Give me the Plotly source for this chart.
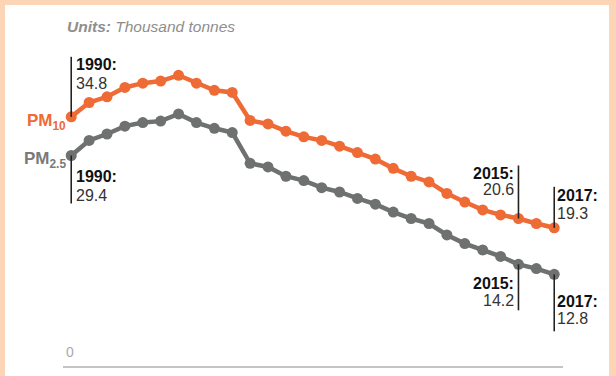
import plotly.graph_objects as go

# Annual emissions, thousand tonnes
years = list(range(1990, 2018))
pm10 = [34.8, 36.8, 37.6, 38.9, 39.5, 39.8, 40.6, 39.5, 38.5, 38.2,
        34.3, 33.8, 32.8, 32.0, 31.5, 30.7, 29.8, 28.9, 27.6, 26.5,
        25.7, 24.1, 22.9, 21.8, 21.1, 20.6, 19.9, 19.3]
pm25 = [29.4, 31.5, 32.4, 33.5, 34.0, 34.2, 35.2, 34.0, 33.2, 32.6,
        28.3, 27.8, 26.5, 25.9, 24.9, 24.3, 23.4, 22.6, 21.5, 20.6,
        19.9, 18.3, 17.1, 16.2, 15.3, 14.2, 13.6, 12.8]
series_names = ["PM<sub>10</sub>", "PM<sub>2.5</sub>"]
callout_years = [1990, 2015, 2017]

ORANGE = "#EE6B36"
GREY = "#6F7171"
LABEL_GREY = "#7A7A7A"
INK = "#111111"
NUM = "#333333"
PEACH = "#FCD4B6"
FONT = "Liberation Sans, Arial, sans-serif"

W, H = 616, 376
M_L, M_R, M_T, M_B = 63, 53, 44, 10
PLOT_H = H - M_T - M_B
Y_MAX = 44.97
PPU = PLOT_H / Y_MAX          # pixels per data unit
X_RANGE = [1989.54, 2017.49]

fig = go.Figure()
fig.add_trace(go.Scatter(x=years, y=pm25, mode="lines+markers",
                         line=dict(color=GREY, width=4.5),
                         marker=dict(color=GREY, size=11),
                         hoverinfo="skip", showlegend=False))
fig.add_trace(go.Scatter(x=years, y=pm10, mode="lines+markers",
                         line=dict(color=ORANGE, width=4.5),
                         marker=dict(color=ORANGE, size=11),
                         hoverinfo="skip", showlegend=False))

ann = []
shapes = []

def value_at(series, yr):
    return series[years.index(yr)]

def callout(series, yr, side, up, line_px, head_px, num_px, xshift):
    v = value_at(series, yr)
    sign = 1 if up else -1
    shapes.append(dict(type="line", xref="x", yref="y", x0=yr, x1=yr,
                       y0=v, y1=v + sign * line_px / PPU,
                       line=dict(color="#222222", width=1.6)))
    anchor = "left" if side == "right" else "right"
    ann.append(dict(x=yr, y=v, xref="x", yref="y", text=f"<b>{yr}:</b>",
                    showarrow=False, xanchor=anchor, yanchor="middle",
                    xshift=xshift, yshift=head_px,
                    font=dict(family=FONT, size=16, color=INK)))
    ann.append(dict(x=yr, y=v, xref="x", yref="y", text=f"{v:.1f}",
                    showarrow=False, xanchor=anchor, yanchor="middle",
                    xshift=xshift, yshift=num_px,
                    font=dict(family=FONT, size=16, color=NUM)))

# PM10 callouts (above the line)
callout(pm10, 1990, "right", True, 60, 52, 33, 3)
callout(pm10, 2015, "left", True, 53, 45, 29, -2)
callout(pm10, 2017, "right", True, 41, 32, 14, 1)
# PM2.5 callouts (below the line)
callout(pm25, 1990, "right", False, 48, -21, -40, 3)
callout(pm25, 2015, "left", False, 46, -19, -36, -2)
callout(pm25, 2017, "right", False, 57, -27, -44, 1)

# Series names at the start of each line
ann.append(dict(x=1990, y=pm10[0], xref="x", yref="y", text=f"<b>{series_names[0]}</b>",
                showarrow=False, xanchor="right", yanchor="middle", xshift=-3, yshift=-5,
                font=dict(family=FONT, size=17, color=ORANGE)))
ann.append(dict(x=1990, y=pm25[0], xref="x", yref="y", text=f"<b>{series_names[1]}</b>",
                showarrow=False, xanchor="right", yanchor="middle", xshift=-3, yshift=-5,
                font=dict(family=FONT, size=17, color=LABEL_GREY)))

# Units line
ann.append(dict(x=0.004, y=(H - M_B - 26) / PLOT_H, xref="paper", yref="paper",
                text="<b><i>Units:</i></b><i> Thousand tonnes</i>", showarrow=False,
                xanchor="left", yanchor="middle",
                font=dict(family=FONT, size=15.5, color="#8E8E8E")))

# Zero label sitting above the baseline
ann.append(dict(x=1990, y=0, xref="x", yref="y", text="0", showarrow=False,
                xanchor="center", yanchor="middle", xshift=-1, yshift=14,
                font=dict(family=FONT, size=14, color="#AAAAAA")))

# Peach frame on the top, left and right edges
def px_x(p):
    return (p - M_L) / (W - M_L - M_R)

def px_y(p):
    return (H - M_B - p) / PLOT_H

for x0, x1, y0, y1 in [(0, 5, 0, H), (609, W, 0, H), (0, W, 0, 5)]:
    shapes.append(dict(type="rect", xref="paper", yref="paper",
                       x0=px_x(x0), x1=px_x(x1), y0=px_y(y1), y1=px_y(y0),
                       line=dict(width=0), fillcolor=PEACH, layer="above"))

fig.update_layout(
    width=W, height=H,
    margin=dict(l=M_L, r=M_R, t=M_T, b=M_B),
    paper_bgcolor="white", plot_bgcolor="rgba(0,0,0,0)",
    xaxis=dict(range=X_RANGE, showgrid=False, zeroline=False, showticklabels=False,
               ticks="", showline=True, linecolor="#C4C4C4", linewidth=2, fixedrange=True),
    yaxis=dict(range=[0, Y_MAX], showgrid=False, zeroline=False, showticklabels=False,
               ticks="", showline=False, fixedrange=True),
    annotations=ann, shapes=shapes,
    font=dict(family=FONT),
)

fig.write_html("out.html", config={"displayModeBar": False})
